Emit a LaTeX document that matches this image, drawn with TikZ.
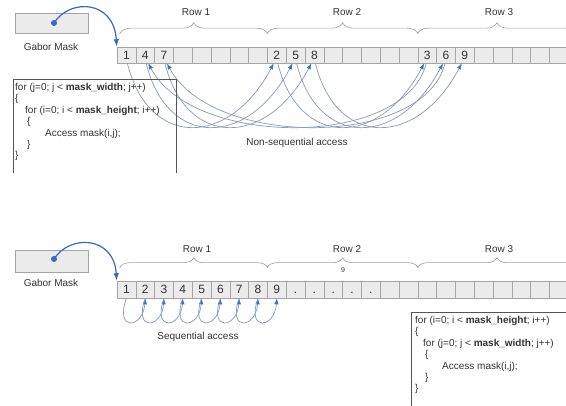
\documentclass[tikz,border=0pt]{standalone}
\usepackage{fontspec}
\setmainfont{Liberation Sans}
\usetikzlibrary{arrows.meta,decorations.pathreplacing,calc}
\definecolor{cellfill}{HTML}{EBEBEB}
\definecolor{cellline}{HTML}{A5A5A5}
\definecolor{tipblue}{HTML}{3F6ED2}
\definecolor{curvecol}{HTML}{8C98B8}
\definecolor{maskblue}{HTML}{3A66C8}
\definecolor{codeline}{HTML}{555555}
\definecolor{bracecol}{HTML}{A0A0A0}
\definecolor{txt}{HTML}{333333}
\begin{document}
\begin{tikzpicture}[x=1pt,y=1pt,
 cell/.style={draw=cellline, fill=cellfill, minimum width=18.8pt, minimum height=16pt, inner sep=0pt, font=\fontsize{12}{12}\selectfont, text=txt, text height=8.6pt, text depth=0pt, line width=0.6pt},
 maskbox/.style={draw=cellline, fill=cellfill, minimum width=73pt, minimum height=20pt, inner sep=0pt, line width=0.6pt},
 dotnode/.style={circle, fill=maskblue, inner sep=0pt, minimum size=6pt},
 lbl/.style={font=\fontsize{10}{12}\selectfont, text=txt, inner sep=0pt},
 acc/.style={draw=curvecol, line width=0.7pt, -{Latex[length=6pt,width=4.5pt,color=tipblue]}},
 feed/.style={draw=maskblue, line width=1.2pt, -{Latex[length=7.5pt,width=5.5pt]}},
 rowbrace/.style={draw=bracecol, line width=0.6pt, decorate, decoration={brace, amplitude=11pt}},
 code/.style={anchor=north west, align=left, inner sep=0pt, font=\fontsize{10}{11.4}\selectfont, text=txt},
 codebox/.style={draw=codeline, line width=0.9pt}
]
\useasboundingbox (0,0) rectangle (566,-406);
\fill[white] (0,0) rectangle (566,-406);
\clip (0,0) rectangle (566,-406);

% ---------- top half ----------
\node[maskbox] (mask1) at (51.5,-23) {};
\node[dotnode] (dot1) at (54,-23) {};
\node[lbl] (gm1) at (51,-47) {Gabor Mask};

\foreach \i/\l in {0/1,1/4,2/7,3/{},4/{},5/{},6/{},7/{},8/2,9/5,10/8,11/{},12/{},13/{},14/{},15/{},16/3,17/6,18/9,19/{},20/{},21/{},22/{},23/{}}
  \node[cell] (t\i) at ({117+18.8*(\i+0.5)},-55) {\l};

\draw[rowbrace] ($(t0.north west)+(3,13)$) -- ($(t7.north east)+(0,13)$);
\draw[rowbrace] ($(t8.north west)+(0,13)$) -- ($(t15.north east)+(0,13)$);
\draw[rowbrace] ($(t16.north west)+(0,13)$) -- ($(t23.north east)+(8,13)$);
\node[lbl] (r1) at (196,-12) {Row 1};
\node[lbl] (r2) at (347,-12) {Row 2};
\node[lbl] (r3) at (499,-12) {Row 3};

\draw[feed] (dot1.center) .. controls (70,2) and (114,0) .. (t0.north west);

\foreach \s/\t in {0/8,8/16,1/9,9/17,2/10,10/18}
  \draw[acc] ($(t\s.south)+(1,0)$) .. controls ($(t\s.south)+(22,-85)$) and ($(t\t.south)+(-48,-85)$) .. ($(t\t.south)+(-3,0)$);
\foreach \s/\t in {16/1,17/2}
  \draw[acc] ($(t\s.south)+(-1,0)$) .. controls ($(t\s.south)+(-22,-85)$) and ($(t\t.south)+(48,-85)$) .. ($(t\t.south)+(3,0)$);

\node[lbl] (ns) at (297,-143) {Non-sequential access};

\draw[codebox] (13,-173) -- (13,-79) -- (176,-79) -- (176,-173);
\node[code] (code1) at (15,-83) {for (j=0; j < \textbf{mask\_width}; j++)\\
\{\\
\hspace*{10pt}for (i=0; i < \textbf{mask\_height}; i++)\\
\hspace*{12pt}\{\\
\hspace*{30pt}Access mask(i,j);\\
\hspace*{12pt}\}\\
\}};

% ---------- bottom half ----------
\node[maskbox, minimum height=22pt] (mask2) at (51.5,-261) {};
\node[dotnode] (dot2) at (54,-259) {};
\node[lbl] (gm2) at (51,-283) {Gabor Mask};

\foreach \i/\l in {0/1,1/2,2/3,3/4,4/5,5/6,6/7,7/8,8/9,9/.,10/.,11/.,12/.,13/.,14/{},15/{},16/{},17/{},18/{},19/{},20/{},21/{},22/{},23/{}}
  \node[cell, minimum height=17pt] (b\i) at ({117+18.8*(\i+0.5)},-289.5) {\l};

\draw[rowbrace, decoration={amplitude=10pt}] ($(b0.north west)+(3,13)$) -- ($(b7.north east)+(0,13)$);
\draw[rowbrace, decoration={amplitude=10pt}] ($(b8.north west)+(0,13)$) -- ($(b15.north east)+(0,13)$);
\draw[rowbrace, decoration={amplitude=10pt}] ($(b16.north west)+(0,13)$) -- ($(b23.north east)+(8,13)$);
\node[lbl] (r1b) at (197,-249) {Row 1};
\node[lbl] (r2b) at (347,-249) {Row 2};
\node[lbl] (r3b) at (499,-249) {Row 3};
\node[font=\fontsize{7}{8}\selectfont, text=txt, inner sep=0pt] (nine) at (343,-270) {9};

\draw[feed] (dot2.center) .. controls (70,-234) and (114,-236) .. (b0.north west);

\foreach \s/\t in {0/1,1/2,2/3,3/4,4/5,5/6,6/7,7/8}
  \draw[acc] (b\s.south) .. controls ($(b\s.south)+(-12,-34)$) and ($(b\t.south)+(-2,-30)$) .. (b\t.south);

\node[lbl] (sq) at (198,-337) {Sequential access};

\draw[codebox] (411,-410) -- (411,-312) -- (570,-312);
\node[code] (code2) at (415,-316) {for (i=0; i < \textbf{mask\_height}; i++)\\
\{\\
\hspace*{8pt}for (j=0; j < \textbf{mask\_width}; j++)\\
\hspace*{10pt}\{\\
\hspace*{27pt}Access mask(i,j);\\
\hspace*{10pt}\}\\
\}};
\end{tikzpicture}
\end{document}
